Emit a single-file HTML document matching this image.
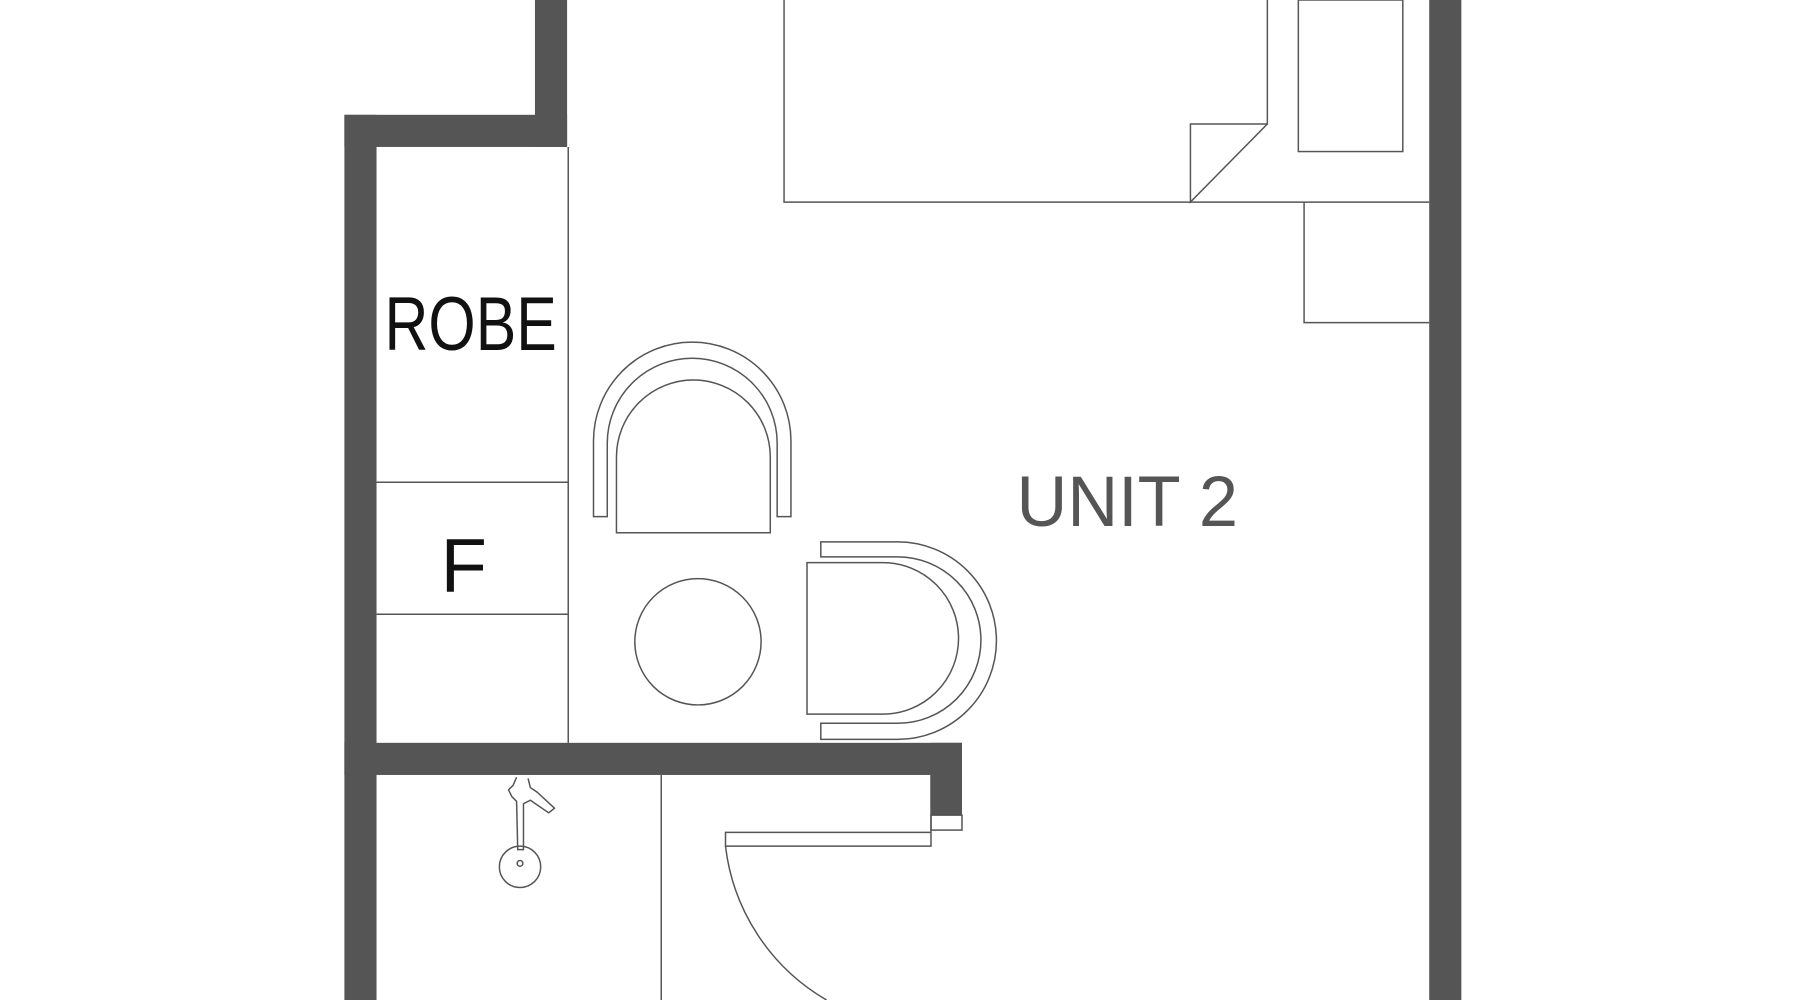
<!DOCTYPE html>
<html><head><meta charset="utf-8"><style>
html,body{margin:0;padding:0;background:#fff;}
svg{display:block;}
</style></head><body>
<svg width="1800" height="1000" viewBox="0 0 1568 871" preserveAspectRatio="none" xmlns="http://www.w3.org/2000/svg">
<g fill="#555" stroke="none">
  <rect x="300" y="100" width="28" height="771"/>
  <rect x="300" y="100" width="194" height="28"/>
  <rect x="466" y="0" width="28" height="128"/>
  <rect x="1245" y="0" width="28" height="871"/>
  <rect x="300" y="647" width="538" height="28"/>
  <rect x="811" y="647" width="27" height="63"/>
</g>
<g fill="none" stroke="#555" stroke-width="1.3">
  <line x1="495" y1="128" x2="495" y2="647"/>
  <line x1="328" y1="420" x2="495" y2="420"/>
  <line x1="328" y1="535" x2="495" y2="535"/>
  <polyline points="683,0 683,176 1245,176"/>
  <polyline points="1104,0 1104,108 1037,108 1037,176 1104,108"/>
  <rect x="1131" y="0" width="91" height="132"/>
  <polyline points="1136,176 1136,281 1245,281"/>
  <rect x="811" y="710" width="27" height="13"/>
  <polyline points="811,675 811,737 632,737 632,725 811,725"/>
  <path d="M632,737 A179,179 0 0 0 720,871"/>
  <line x1="576" y1="675" x2="576" y2="871"/>
  <path d="M450,677 L447,684 L443,688 L446,694 L450,698 L451,740 L456,740 L456,700 L462,697 L478,708 L483,704 L468,690 L462,686 L460,678"/>
  <circle cx="453" cy="755" r="18"/>
  <circle cx="453" cy="752" r="2.5"/>
  <path d="M517,450 L517,384 A86,86 0 0 1 689,384 L689,450 L677,450 L677,386 A74,74 0 0 0 529,386 L529,450 Z"/>
  <path d="M537,464 L537,398 A67,67 0 0 1 671,398 L671,464 Z"/>
  <circle cx="608" cy="559" r="55"/>
  <path d="M715,472 L782,472 A86,86 0 0 1 782,644 L715,644 L715,630 L782,630 A72.5,72.5 0 0 0 782,485 L715,485 Z"/>
  <path d="M703,490 L769,490 A66,66 0 0 1 769,622 L703,622 Z"/>
</g>
<text x="410" y="305" text-anchor="middle" font-family="Liberation Sans, sans-serif" font-size="66" fill="#111" textLength="150" lengthAdjust="spacingAndGlyphs">ROBE</text>
<text x="404" y="515" text-anchor="middle" font-family="Liberation Sans, sans-serif" font-size="66" fill="#111">F</text>
<text x="982" y="458" text-anchor="middle" font-family="Liberation Sans, sans-serif" font-size="62" fill="#555" textLength="193" lengthAdjust="spacingAndGlyphs">UNIT 2</text>
</svg>
</body></html>
